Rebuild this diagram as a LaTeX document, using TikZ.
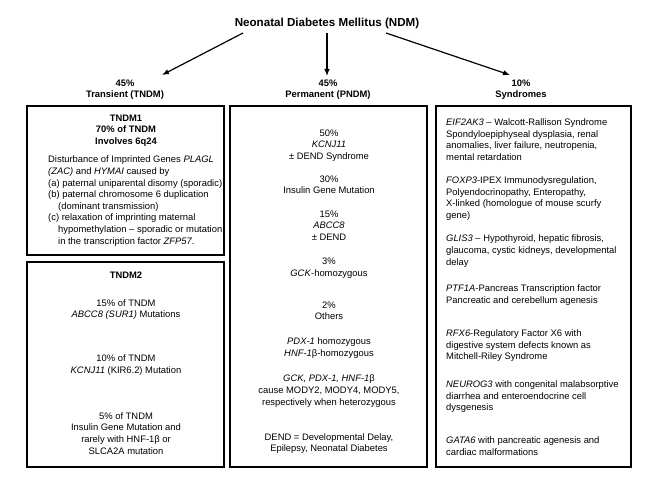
\documentclass[tikz,border=0pt]{standalone}
\usepackage{fontspec}
\setmainfont{Liberation Sans}
\usetikzlibrary{arrows.meta}
\begin{document}
\begin{tikzpicture}[x=1pt,y=-1pt,
  box/.style={draw=black,line width=2.4pt,minimum width=195pt,inner sep=0pt},
  body/.style={inner sep=0pt,font=\fontsize{9.4}{11.6}\selectfont},
  bodyc/.style={body,align=center,anchor=north},
  bodyl/.style={body,align=left,anchor=north west},
  head/.style={inner sep=0pt,font=\fontsize{9.4}{11.75}\selectfont\bfseries,align=center,anchor=north},
  lab/.style={inner sep=0pt,font=\fontsize{9.4}{11.6}\selectfont\bfseries,anchor=base},
  arr/.style={line width=1.2pt,-{Latex[length=7pt,width=5.5pt]}}]
\useasboundingbox[fill=white] (0,0) rectangle (658,489);

% title
\node[inner sep=0pt,font=\fontsize{11.6}{14}\selectfont\bfseries,anchor=base] (title) at (327,26.9) {Neonatal Diabetes Mellitus (NDM)};

% branch labels
\node[lab] (pct1) at (125,86.4) {45\%};
\node[lab] (lab1) at (125,97.9) {Transient (TNDM)};
\node[lab] (pct2) at (328,86.4) {45\%};
\node[lab] (lab2) at (328,97.9) {Permanent (PNDM)};
\node[lab] (pct3) at (521,86.4) {10\%};
\node[lab] (lab3) at (521,97.9) {Syndromes};

% arrows
\coordinate (a1s) at (243,33);
\coordinate (a1e) at (162,75);
\coordinate (a2s) at (327,33);
\coordinate (a2e) at (327,76);
\coordinate (a3s) at (386,33);
\coordinate (a3e) at (510,75);
\draw[arr] (a1s) -- (a1e);
\draw[arr] (a2s) -- (a2e);
\draw[arr] (a3s) -- (a3e);

% boxes
\node[box,minimum width=197pt,minimum height=149pt] (tndm1) at (125.5,180.5) {};
\node[box,minimum width=197pt,minimum height=205pt] (tndm2) at (125.5,364.5) {};
\node[box,minimum width=197pt,minimum height=361pt] (pndm) at (328.5,286.5) {};
\node[box,minimum width=195pt,minimum height=361pt] (synd) at (533.5,286.5) {};

% TNDM1
\node[head] (t1h) at (126,114.5) {TNDM1\\70\% of TNDM\\Involves 6q24};
\node[bodyl] (t1b) at (48,155.8) {Disturbance of Imprinted Genes \textit{PLAGL}\\
\textit{(ZAC)} and \textit{HYMAI} caused by\\
(a) paternal uniparental disomy (sporadic)\\
(b) paternal chromosome 6 duplication\\
\hspace*{10pt}(dominant transmission)\\
(c) relaxation of imprinting maternal\\
\hspace*{10pt}hypomethylation – sporadic or mutation\\
\hspace*{10pt}in the transcription factor \textit{ZFP57}.};

% TNDM2
\node[head] (t2h) at (126,271.5) {TNDM2};
\node[bodyc] (t2a) at (126,299.2) {15\% of TNDM\\\textit{ABCC8 (SUR1)} Mutations};
\node[bodyc] (t2b) at (126,354.8) {10\% of TNDM\\\textit{KCNJ11} (KIR6.2) Mutation};
\node[bodyc] (t2c) at (126,412.2) {5\% of TNDM\\Insulin Gene Mutation and\\rarely with HNF-1β or\\SLCA2A mutation};

% PNDM
\node[bodyc] (p1) at (329,129.5) {50\%\\\textit{KCNJ11}\\± DEND Syndrome};
\node[bodyc] (p2) at (329,175.5) {30\%\\Insulin Gene Mutation};
\node[bodyc] (p3) at (329,210.5) {15\%\\\textit{ABCC8}\\± DEND};
\node[bodyc] (p4) at (329,258.2) {3\%\\\textit{GCK}-homozygous};
\node[bodyc] (p5) at (329,301.5) {2\%\\Others};
\node[bodyc] (p6) at (329,337.5) {\textit{PDX-1} homozygous\\\textit{HNF-1}β-homozygous};
\node[bodyc] (p7) at (329,374.8) {\textit{GCK, PDX-1, HNF-1}β\\cause MODY2, MODY4, MODY5,\\respectively when heterozygous};
\node[bodyc] (p8) at (329,433.2) {DEND = Developmental Delay,\\Epilepsy, Neonatal Diabetes};

% Syndromes
\node[bodyl] (s1) at (446,118.5) {\textit{EIF2AK3} – Walcott-Rallison Syndrome\\Spondyloepiphyseal dysplasia, renal\\anomalies, liver failure, neutropenia,\\mental retardation};
\node[bodyl] (s2) at (446,176.5) {\textit{FOXP3}-IPEX Immunodysregulation,\\Polyendocrinopathy, Enteropathy,\\X-linked (homologue of mouse scurfy\\gene)};
\node[bodyl] (s3) at (446,234.8) {\textit{GLIS3} – Hypothyroid, hepatic fibrosis,\\glaucoma, cystic kidneys, developmental\\delay};
\node[bodyl] (s4) at (446,284.5) {\textit{PTF1A}-Pancreas Transcription factor\\Pancreatic and cerebellum agenesis};
\node[bodyl] (s5) at (446,329.5) {\textit{RFX6}-Regulatory Factor X6 with\\digestive system defects known as\\Mitchell-Riley Syndrome};
\node[bodyl] (s6) at (446,380.5) {\textit{NEUROG3} with congenital malabsorptive\\diarrhea and enteroendocrine cell\\dysgenesis};
\node[bodyl] (s7) at (446,436.5) {\textit{GATA6} with pancreatic agenesis and\\cardiac malformations};
\end{tikzpicture}
\end{document}
